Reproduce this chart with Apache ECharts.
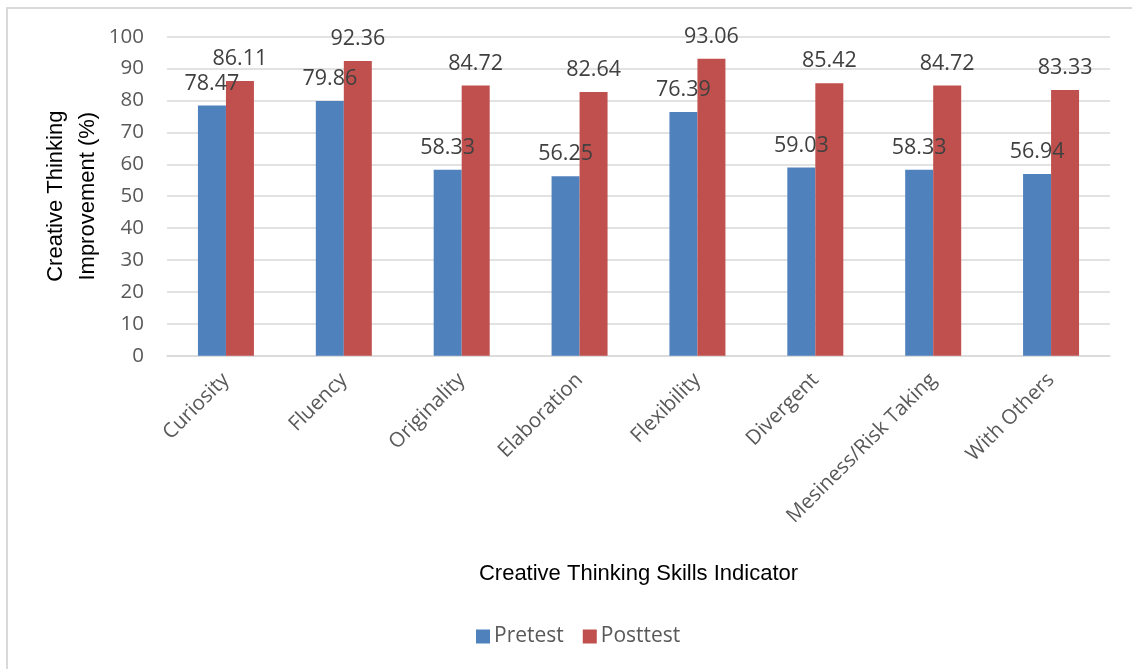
<!DOCTYPE html>
<html>
<head>
<meta charset="utf-8">
<script src="https://cdn.jsdelivr.net/npm/echarts@6/dist/echarts.min.js"></script>
<style>
html,body{margin:0;padding:0;background:#fff;}
#chart{width:1132px;height:669px;}
</style>
</head>
<body>
<div id="chart"></div>
<script>
const categories = ['Curiosity','Fluency','Originality','Elaboration','Flexibility','Divergent','Mesiness/Risk Taking','With Others'];
const pretest = [78.47, 79.86, 58.33, 56.25, 76.39, 59.03, 58.33, 56.94];
const posttest = [86.11, 92.36, 84.72, 82.64, 93.06, 85.42, 84.72, 83.33];
const seriesNames = ['Pretest', 'Posttest'];
const yTicks = { min: 0, max: 100, interval: 10 };

const chart = echarts.init(document.getElementById('chart'));
const labelStyle = {
  show: true, position: 'top', distance: 11,
  fontFamily: 'Open Sans', fontSize: 21.5, color: '#404040',
  formatter: p => p.value.toFixed(2)
};
chart.setOption({
  animation: false,
  backgroundColor: '#fff',
  graphic: [
    { type: 'polyline', shape: { points: [[7, 669], [7, 8], [1132, 8]] },
      style: { stroke: '#d9d9d9', lineWidth: 2, fill: null } }
  ],
  grid: { left: 167, right: 22, top: 36.7, bottom: 313.3, containLabel: false },
  legend: {
    data: seriesNames, left: 471, top: 621,
    itemWidth: 14, itemHeight: 14, itemGap: 19, icon: 'rect',
    textStyle: { fontFamily: 'Open Sans', fontSize: 21, color: '#595959', padding: [0, 0, 0, -1] }
  },
  xAxis: {
    type: 'category', data: categories,
    name: 'Creative Thinking Skills Indicator', nameLocation: 'middle', nameGap: 207,
    nameMoveOverlap: false,
    nameTextStyle: { fontFamily: 'Liberation Sans Narrow, Arial Narrow, sans-serif', fontSize: 22, color: '#000' },
    axisLine: { lineStyle: { color: '#d9d9d9', width: 1.5 } },
    axisTick: { show: false },
    axisLabel: { rotate: 45, margin: 21, interval: 0, fontFamily: 'Open Sans', fontSize: 20.5, color: '#595959' }
  },
  yAxis: {
    type: 'value', min: yTicks.min, max: yTicks.max, interval: yTicks.interval,
    name: 'Creative Thinking\nImprovement (%)', nameLocation: 'middle', nameGap: 63, nameRotate: 90,
    nameMoveOverlap: false,
    nameTextStyle: { fontFamily: 'Liberation Sans Narrow, Arial Narrow, sans-serif', fontSize: 22, color: '#000', lineHeight: 32 },
    axisLine: { show: false }, axisTick: { show: false },
    axisLabel: { margin: 23, fontFamily: 'Open Sans', fontSize: 20.5, color: '#595959' },
    splitLine: { lineStyle: { color: '#d9d9d9', width: 1.5 } }
  },
  series: [
    { name: seriesNames[0], type: 'bar', data: pretest, barWidth: 28, barGap: '0%',
      itemStyle: { color: '#4F81BD' }, label: labelStyle },
    { name: seriesNames[1], type: 'bar', data: posttest, barWidth: 28,
      itemStyle: { color: '#C0504D' }, label: labelStyle }
  ]
});
</script>
</body>
</html>
